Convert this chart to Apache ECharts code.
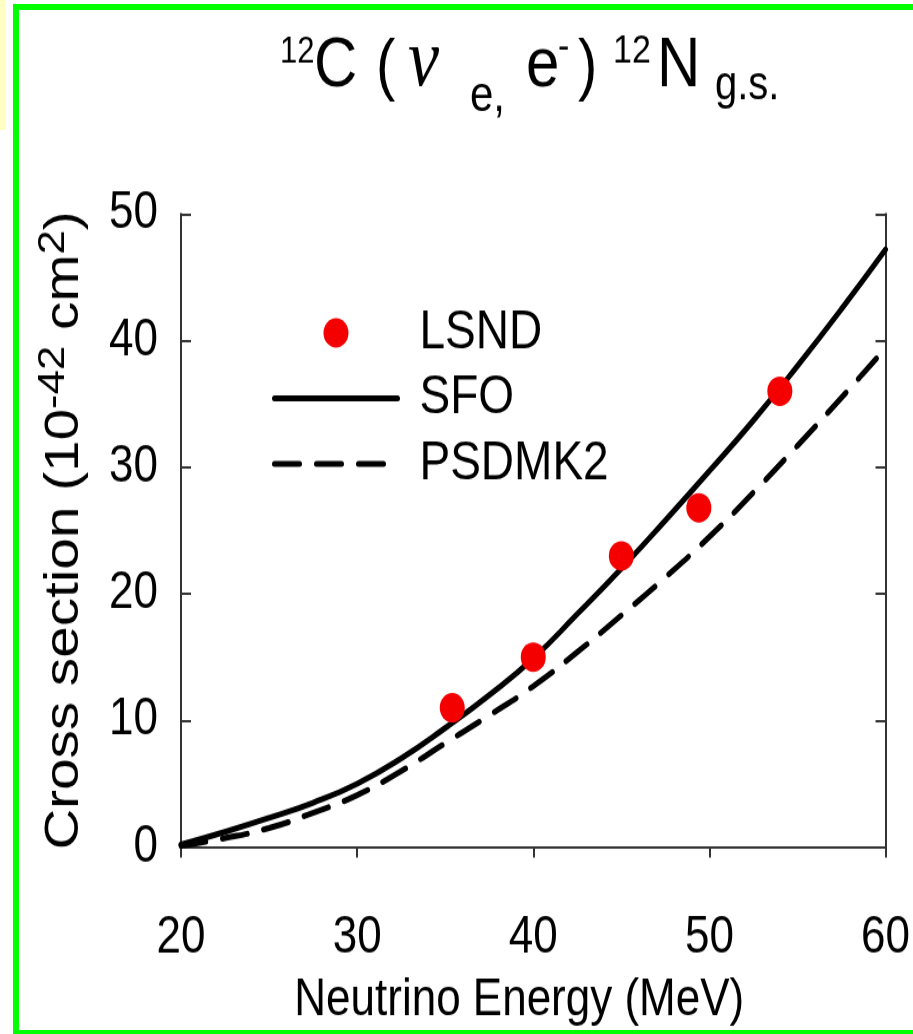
<!DOCTYPE html>
<html>
<head>
<meta charset="utf-8">
<script src="https://cdn.jsdelivr.net/npm/echarts@6/dist/echarts.min.js"></script>
<style>
html,body{margin:0;padding:0;background:#fff;overflow:hidden;}
#wrap{position:relative;width:913px;height:1034px;overflow:hidden;background:#fff;}
#yellow{position:absolute;left:0;top:0;width:6px;height:130px;background:#ffffc4;}
/* the reference picture is a vertically stretched figure: draw at 876px and stretch to 1034px */
#chart{position:absolute;left:0;top:0;width:913px;height:876px;transform:scaleY(1.180365);transform-origin:0 0;}
#frame{position:absolute;left:13px;top:4px;width:940px;height:1020px;border:6px solid #00ff00;pointer-events:none;}
</style>
</head>
<body>
<div id="wrap">
  <div id="yellow"></div>
  <div id="chart"></div>
  <div id="frame"></div>
</div>
<script>
// ---- data ----
const curveEnergy  = [20, 22.5, 25, 27.5, 30, 32.5, 35, 37.5, 40, 42.5, 45, 47.5, 50, 52.5, 55, 57.5, 60];
const sfoValues    = [0.2, 1.2, 2.3, 3.5, 5.0, 7.0, 9.4, 12.0, 14.9, 18.4, 22.0, 25.8, 29.7, 33.7, 38.0, 42.5, 47.2];
const psdmk2Values = [0.1, 0.7, 1.5, 2.7, 4.1, 6.0, 8.2, 10.4, 12.7, 15.4, 18.3, 21.3, 24.5, 28.0, 31.7, 35.5, 39.4];
const lsndEnergy = [35.4, 40.0, 45.0, 49.4, 54.0];
const lsndValues = [11.0, 15.0, 23.0, 26.8, 36.0];
const seriesNames = ['LSND', 'SFO', 'PSDMK2'];
const xRange = [20, 60, 10];
const yRange = [0, 50, 10];
const xAxisTitle = 'Neutrino Energy (MeV)';
const yAxisTitle = '{a|Cross section (10}{s|-42}{a| cm}{s|2}{a|)}';
// title pieces: text, left x, baseline y (page px), font size, kind
const titlePieces = [
  ['12', 280, 65, 31, 'sans'],
  ['C', 314, 92, 60, 'sans'],
  ['(', 376, 92, 58, 'sans'],
  ['\u03BD', 408, 92, 70, 'serif'],
  ['e,', 470, 115, 42, 'sans'],
  ['e', 526, 92, 60, 'sans'],
  ['-', 558, 62, 34, 'sans'],
  [')', 578, 92, 58, 'sans'],
  ['12', 613, 65, 34, 'sans'],
  ['N', 657, 92, 60, 'sans'],
  ['g.s.', 715, 103, 40, 'sans']
];

const K = 1034 / 876;           // vertical stretch of the page
const toInner = y => y / K;     // page y -> chart y

const SANS = "'Liberation Sans', Arial, sans-serif";
const SERIF = "'Liberation Serif', 'Times New Roman', serif";

const zip = (a, b) => a.map((v, i) => [v, b[i]]);

const titleGraphics = titlePieces.map(p => ({
  type: 'text',
  x: p[1],
  y: toInner(p[2]) - 0.35 * p[3],
  silent: true,
  style: {
    text: p[0],
    fill: '#000',
    fontSize: p[3],
    fontFamily: p[4] === 'serif' ? SERIF : SANS,
    fontStyle: p[4] === 'serif' ? 'italic' : 'normal',
    align: 'left',
    verticalAlign: 'middle'
  }
}));

const axisLineStyle = { color: '#333', width: 2 };
const plotTop = toInner(214);
const plotBottom = toInner(847);

const option = {
  animation: false,
  backgroundColor: 'transparent',
  graphic: titleGraphics,
  grid: { left: 181, right: 25, top: plotTop, bottom: 876 - plotBottom, containLabel: false },
  legend: {
    data: [
      { name: seriesNames[0] },
      { name: seriesNames[1], itemStyle: { opacity: 0 } },
      { name: seriesNames[2], itemStyle: { opacity: 0 } }
    ],
    orient: 'vertical',
    left: 267,
    top: toInner(327) - 24,
    itemWidth: 123,
    itemHeight: 25,
    itemGap: 7.5,
    lineStyle: { width: 5 },
    textStyle: {
      fontSize: 46, lineHeight: 48, fontFamily: SANS, color: '#000',
      padding: [0, 0, 0, 17]
    }
  },
  xAxis: [
    {
      type: 'value', min: xRange[0], max: xRange[1], interval: xRange[2], position: 'bottom',
      axisLine: { show: true, lineStyle: axisLineStyle },
      axisTick: { show: true, inside: false, length: 9, lineStyle: axisLineStyle },
      axisLabel: { margin: 55, fontSize: 44, fontFamily: SANS, color: '#000' },
      splitLine: { show: false },
      name: xAxisTitle, nameLocation: 'middle', nameGap: 108,
      nameTextStyle: { fontSize: 44, fontFamily: SANS, color: '#000', padding: [0, 28, 0, 0] }
    },
    {
      type: 'value', min: xRange[0], max: xRange[1], interval: xRange[2], position: 'top',
      axisLine: { show: true, lineStyle: axisLineStyle },
      axisTick: { show: false }, axisLabel: { show: false }, splitLine: { show: false }
    }
  ],
  yAxis: [
    {
      type: 'value', min: yRange[0], max: yRange[1], interval: yRange[2], position: 'left',
      axisLine: { show: true, lineStyle: axisLineStyle },
      axisTick: { show: true, inside: true, length: 10, lineStyle: axisLineStyle },
      axisLabel: { margin: 23, fontSize: 44, fontFamily: SANS, color: '#000' },
      splitLine: { show: false },
      name: yAxisTitle, nameLocation: 'middle', nameRotate: 90, nameGap: 86,
      nameTextStyle: {
        color: '#000', fontFamily: SANS,
        rich: {
          a: { fontSize: 48, lineHeight: 60, fontFamily: SANS, color: '#000' },
          s: { fontSize: 37, lineHeight: 34, fontFamily: SANS, color: '#000', verticalAlign: 'top' }
        }
      }
    },
    {
      type: 'value', min: yRange[0], max: yRange[1], interval: yRange[2], position: 'right',
      axisLine: { show: true, lineStyle: axisLineStyle },
      axisTick: { show: true, inside: true, length: 10, lineStyle: axisLineStyle },
      axisLabel: { show: false }, splitLine: { show: false }
    }
  ],
  series: [
    {
      name: seriesNames[0], type: 'scatter', xAxisIndex: 0, yAxisIndex: 0,
      data: zip(lsndEnergy, lsndValues),
      symbol: 'circle', symbolSize: 25,
      itemStyle: { color: '#f50000', opacity: 1 }, z: 5
    },
    {
      name: seriesNames[1], type: 'line', xAxisIndex: 0, yAxisIndex: 0,
      data: zip(curveEnergy, sfoValues),
      smooth: true, symbol: 'none',
      lineStyle: { color: '#000', width: 5, cap: 'round' },
      itemStyle: { color: '#000' }, z: 3
    },
    {
      name: seriesNames[2], type: 'line', xAxisIndex: 0, yAxisIndex: 0,
      data: zip(curveEnergy, psdmk2Values),
      smooth: true, symbol: 'none',
      lineStyle: { color: '#000', width: 5, type: [25, 17], cap: 'round' },
      itemStyle: { color: '#000' }, z: 3
    }
  ]
};

const chart = echarts.init(document.getElementById('chart'), null, { renderer: 'canvas' });
chart.setOption(option);
</script>
</body>
</html>
